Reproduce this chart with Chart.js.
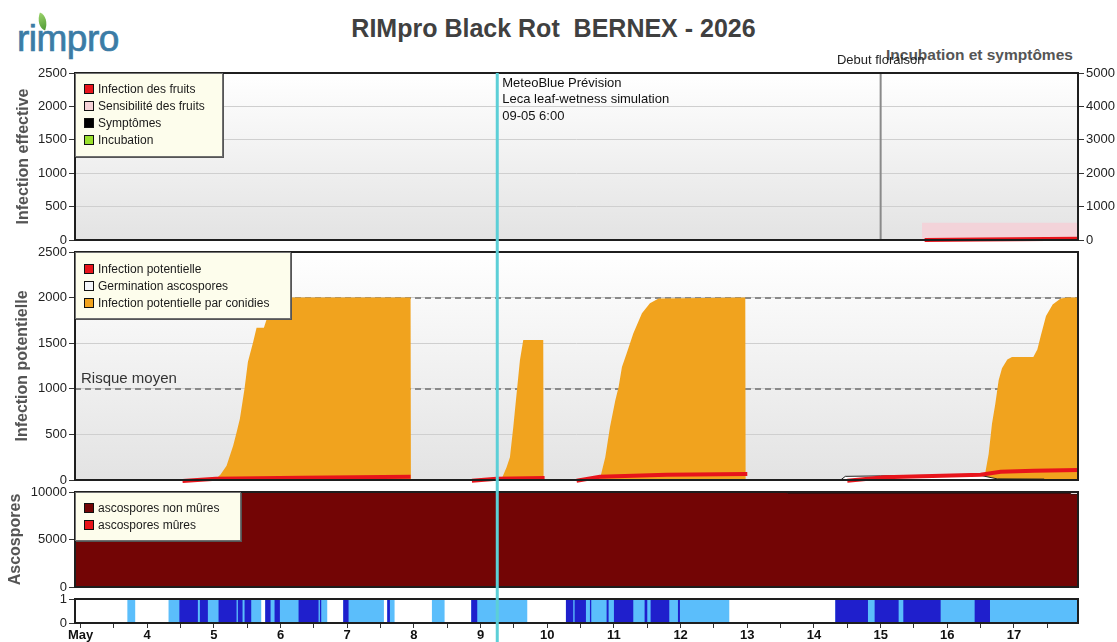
<!DOCTYPE html>
<html><head><meta charset="utf-8">
<script src="https://cdn.jsdelivr.net/npm/chart.js@4/dist/chart.umd.min.js"></script>
<style>
html,body{margin:0;padding:0;background:#fff;}
#wrap{position:relative;width:1117px;height:642px;overflow:hidden;font-family:"Liberation Sans",Arial,sans-serif;}
#wrap canvas{position:absolute;left:0;top:0;}
.txt{position:absolute;white-space:pre;line-height:1;}
.lg{position:absolute;background:#fdfdec;border:1px solid #707070;box-shadow:1px 1px 0 #555;font:12px "Liberation Sans",Arial,sans-serif;color:#1a1a1a;box-sizing:border-box;padding-left:8px;}
.lg .it{height:17px;display:flex;align-items:center;white-space:nowrap;}
.lg .sw{width:10px;height:10px;border:1px solid #111;box-sizing:border-box;margin-right:4px;flex:none;}
#leaf{position:absolute;left:37px;top:14px;width:11px;height:15px;background:linear-gradient(135deg,#9bd36a,#4f9a35);border-radius:0 100% 0 100%;transform:rotate(20deg);}
</style></head>
<body>
<div id="wrap">
  <div id="leaf"></div>
  <div class="txt" style="left:17px;top:20px;font-size:37px;color:#3b7ca6;letter-spacing:-0.5px;-webkit-text-stroke:0.7px #3b7ca6;">rimpro</div>
  <div class="txt" style="left:0;width:1107px;top:16px;text-align:center;font-size:25px;font-weight:bold;color:#404040;">RIMpro Black Rot  BERNEX - 2026</div>
  <div class="txt" style="left:886px;top:47px;font-size:15.5px;font-weight:bold;color:#555;">Incubation et symptômes</div>
</div>
<script>
// ---------------- DATA ----------------
const xMin = 2.917, xMax = 17.96;            // May 2 22:00 -> May 17 23:00 (day of month)
const dayTicks  = [3,4,5,6,7,8,9,10,11,12,13,14,15,16,17];
const dayLabels = ['May','4','5','6','7','8','9','10','11','12','13','14','15','16','17'];
const forecastStart = 9.25;                   // 09-05 6:00
const forecastLines = ['MeteoBlue Prévision','Leca leaf-wetness simulation','09-05 6:00'];
const bloomDay = 15.0;                        // Debut floraison
const riskLevels = [1000, 2000];

// Panel 1 : Infection effective
const sensDays   = [15.62, 17.96];
const sensValues = [520, 520];
const fruitDays   = [15.66, 16.5, 17.0, 17.97];
const fruitValues = [0, 6, 10, 18];

// Panel 2 : Infection potentielle
const conidiaDays = [5.02,5.04,5.10,5.19,5.29,5.34,5.39,5.46,5.51,5.59,5.64,5.75,5.79,5.88,5.98,6.08,7.95,7.955,
  9.30,9.32,9.39,9.44,9.49,9.52,9.55,9.59,9.64,9.94,9.945,
  10.77,10.80,10.87,10.94,11.02,11.07,11.12,11.19,11.29,11.42,11.54,11.67,12.97,12.975,
  16.55,16.62,16.67,16.72,16.77,16.82,16.90,16.97,17.29,17.35,17.40,17.48,17.58,17.70,17.80,17.96];
const conidiaValues = [0,20,60,157,378,520,671,1002,1295,1515,1669,1669,1760,1900,1970,2000,2000,0,
  0,20,139,249,579,800,1020,1313,1534,1534,0,
  0,40,249,579,872,1020,1240,1387,1607,1828,1938,1990,2000,0,
  0,286,616,836,1093,1225,1320,1350,1350,1430,1577,1797,1925,1990,2000,2000];
const potDays   = [4.53,5.03,6.3,7.95, 8.4, 8.87,9.24,9.96, 10.2, 10.44,10.79,11.79,13.0, 13.8, 14.50,15.05,16.50,16.80,17.30,17.97];
const potValues = [-10,15,25,36, null, -8,14,22, null, -8,36,58,66, null, -8,29,58,91,102,110];
const germDays   = [14.40,14.47,15.0,15.6,16.5,16.75,17.45,17.47];
const germValues = [0,40,45,50,50,12,10,0];

// Panel 3 : Ascospores
const ascoDays     = [2.917, 7.25, 13.6, 17.85, 17.96];
const ascoImmature = [10000, 9960, 9850, 9750, 9750];
const ascoMature   = [0, 0, 0, 0, 0];

// Panel 4 : leaf wetness / rain strip  [start, end] in days
const wetLight = [[3.70,3.82],[4.32,5.71],[5.77,6.70],[6.94,7.55],[7.60,7.71],[8.27,8.46],[8.86,9.70],[10.28,12.73],[14.32,17.97]];
const wetDark  = [[4.48,4.76],[4.79,4.91],[5.07,5.34],[5.36,5.43],[5.46,5.56],[5.77,5.85],[5.91,5.99],[6.27,6.57],[6.59,6.61],
  [6.94,7.02],[7.60,7.64],[8.86,8.95],[10.28,10.39],[10.41,10.58],[10.64,10.66],[10.89,10.92],[11.0,11.29],[11.46,11.50],
  [11.55,11.83],[11.96,11.99],[14.32,14.81],[14.91,15.27],[15.34,15.90],[16.41,16.64]];

// ---------------- HELPERS ----------------
const W = 1117, H = 642;
const FONT = '"Liberation Sans", Arial, sans-serif';
Chart.defaults.font.family = FONT;
Chart.defaults.color = '#222';
Chart.defaults.animation = false;
const zip = (xs, ys) => xs.map((x, i) => ({x, y: ys[i]}));
const spans = (list) => { const p = []; list.forEach(([s, e]) => p.push({x:s,y:0},{x:s,y:1},{x:e,y:1},{x:e,y:0})); return p; };
const plain = v => String(v);
const wrap = document.getElementById('wrap');
function ctxFor(){ const c = document.createElement('canvas'); c.width = W; c.height = H; c.style.width = W+'px'; c.style.height = H+'px'; wrap.appendChild(c); return c; }

const panelPlugin = {
  id: 'panel',
  beforeDraw(chart, args, o) {
    const {ctx, chartArea: a} = chart;
    ctx.save();
    if (o.gradient) {
      const g = ctx.createLinearGradient(0, a.top, 0, a.bottom);
      g.addColorStop(0, '#ffffff'); g.addColorStop(1, '#e3e3e3');
      ctx.fillStyle = g;
    } else ctx.fillStyle = '#ffffff';
    ctx.fillRect(a.left, a.top, a.right - a.left, a.bottom - a.top);
    ctx.restore();
  },
  beforeDatasetsDraw(chart, args, o) {
    if (!o.risk) return;
    const {ctx, chartArea: a, scales} = chart;
    ctx.save();
    ctx.strokeStyle = '#8a8a8a'; ctx.lineWidth = 2; ctx.setLineDash([6, 4]);
    riskLevels.forEach(v => { const y = Math.round(scales.y.getPixelForValue(v)); ctx.beginPath(); ctx.moveTo(a.left, y); ctx.lineTo(a.right, y); ctx.stroke(); });
    ctx.setLineDash([]);
    ctx.fillStyle = '#333'; ctx.font = '15px ' + FONT; ctx.textBaseline = 'middle'; ctx.textAlign = 'left';
    ctx.fillText('Risque moyen', a.left + 6, scales.y.getPixelForValue(1000) - 10);
    ctx.restore();
  },
  afterDraw(chart, args, o) {
    const {ctx, chartArea: a, scales} = chart;
    ctx.save();
    if (o.bloom) {
      const x = scales.x.getPixelForValue(bloomDay);
      ctx.strokeStyle = '#8a8a8a'; ctx.lineWidth = 2;
      ctx.beginPath(); ctx.moveTo(x, a.top); ctx.lineTo(x, a.bottom); ctx.stroke();
      ctx.fillStyle = '#222'; ctx.font = '13px ' + FONT; ctx.textAlign = 'center'; ctx.textBaseline = 'middle';
      ctx.fillText('Debut floraison', x, a.top - 13);
    }
    ctx.strokeStyle = '#1e1e1e'; ctx.lineWidth = 2;
    ctx.strokeRect(a.left, a.top, a.right - a.left, a.bottom - a.top);
    if (o.forecastText) {
      const x = scales.x.getPixelForValue(forecastStart);
      ctx.fillStyle = '#111'; ctx.font = '13px ' + FONT; ctx.textAlign = 'left'; ctx.textBaseline = 'alphabetic';
      forecastLines.forEach((t, i) => ctx.fillText(t, x + 5, a.top + 14 + i * 16.3));
    }
    if (o.cyanFrom !== undefined) {
      const x = scales.x.getPixelForValue(forecastStart);
      ctx.strokeStyle = '#5ccfd7'; ctx.lineWidth = 3;
      ctx.beginPath(); ctx.moveTo(x, o.cyanFrom); ctx.lineTo(x, H); ctx.stroke();
    }
    ctx.restore();
  }
};

function yAxis(o) {
  return {
    type: 'linear', position: 'left', min: o.min, max: o.max,
    afterFit(s) { s.width = 75; },
    border: {display: false},
    grid: {color: o.grid ? '#cfcfcf' : 'transparent', drawOnChartArea: !!o.grid, drawTicks: true, tickLength: 6, tickColor: '#333', lineWidth: 1},
    ticks: {stepSize: o.step, padding: 2, color: '#222', font: {size: 13}, callback: plain},
    title: {display: !!o.title, text: o.title, color: '#555', font: {size: 16, weight: 'bold'}, padding: {top: o.tp, bottom: 0}}
  };
}
const hiddenX = {type: 'linear', min: xMin, max: xMax, display: false};

function opts(pad, scales, pluginOpts) {
  return {
    responsive: false, animation: false, devicePixelRatio: 1,
    layout: {padding: pad},
    plugins: {legend: {display: false}, tooltip: {enabled: false}, panel: pluginOpts},
    elements: {point: {radius: 0}, line: {tension: 0}},
    scales
  };
}

// ---------------- PANEL 1 ----------------
new Chart(ctxFor(), {
  type: 'line',
  data: {datasets: [
    {label: 'Infection des fruits', data: zip(fruitDays, fruitValues), borderColor: '#e8141b', borderWidth: 4, fill: false, yAxisID: 'y', clip: 5},
    {label: 'Sensibilité des fruits', data: zip(sensDays, sensValues), borderWidth: 0, borderColor: 'transparent', backgroundColor: '#f3d3d9', fill: 'origin', yAxisID: 'y2'},
    {label: 'Symptômes', data: [], borderColor: '#000'},
    {label: 'Incubation', data: [], borderColor: '#99e02a'}
  ]},
  options: opts({top: 73, bottom: H - 240, left: 0, right: 0}, {
    x: hiddenX,
    y: yAxis({min: 0, max: 2500, step: 500, grid: true, title: 'Infection effective', tp: 14}),
    y2: {type: 'linear', position: 'right', min: 0, max: 5000, afterFit(s) { s.width = W - 1078; }, border: {display: false},
      grid: {drawOnChartArea: false, tickLength: 6, tickColor: '#333'}, ticks: {stepSize: 1000, padding: 2, color: '#222', font: {size: 13}, callback: plain}}
  }, {gradient: true, bloom: true, forecastText: true}),
  plugins: [panelPlugin]
});

// ---------------- PANEL 2 ----------------
new Chart(ctxFor(), {
  type: 'line',
  data: {datasets: [
    {label: 'Infection potentielle', data: zip(potDays, potValues), borderColor: '#e8141b', borderWidth: 4, fill: false, order: 0, clip: 5, spanGaps: false},
    {label: 'Germination ascospores', data: zip(germDays, germValues), borderColor: '#222', borderWidth: 1, backgroundColor: '#ffffff', fill: 'origin', order: 1},
    {label: 'Infection potentielle par conidies', data: zip(conidiaDays, conidiaValues), borderWidth: 0, borderColor: 'transparent', backgroundColor: '#f1a31e', fill: 'origin', order: 2}
  ]},
  options: opts({top: 252, bottom: H - 480, left: 0, right: W - 1078}, {
    x: hiddenX,
    y: yAxis({min: 0, max: 2500, step: 500, grid: true, title: 'Infection potentielle', tp: 13})
  }, {gradient: true, risk: true}),
  plugins: [panelPlugin]
});

// ---------------- PANEL 3 ----------------
new Chart(ctxFor(), {
  type: 'line',
  data: {datasets: [
    {label: 'ascospores mûres', data: zip(ascoDays, ascoMature), borderWidth: 0, borderColor: 'transparent', backgroundColor: '#e8141b', fill: 'origin', stepped: true},
    {label: 'ascospores non mûres', data: zip(ascoDays, ascoImmature), borderWidth: 1, borderColor: '#3a0000', backgroundColor: '#730505', fill: 'origin', stepped: true}
  ]},
  options: opts({top: 492, bottom: H - 587, left: 0, right: W - 1078}, {
    x: hiddenX,
    y: yAxis({min: 0, max: 10000, step: 5000, grid: false, title: 'Ascospores', tp: 6})
  }, {gradient: false}),
  plugins: [panelPlugin]
});

// ---------------- PANEL 4 ----------------
const allTicks = dayTicks.concat(dayTicks.map(d => d + 0.5)).filter(v => v >= xMin && v <= xMax).sort((a, b) => a - b);
new Chart(ctxFor(), {
  type: 'line',
  data: {datasets: [
    {label: 'humectation forte', data: spans(wetDark), borderWidth: 0, borderColor: 'transparent', backgroundColor: '#1f1fcc', fill: 'origin', order: 0},
    {label: 'humectation', data: spans(wetLight), borderWidth: 0, borderColor: 'transparent', backgroundColor: '#5bbefb', fill: 'origin', order: 1}
  ]},
  options: opts({top: 599, bottom: 0, left: 0, right: W - 1078}, {
    x: {type: 'linear', min: xMin, max: xMax, position: 'bottom',
      afterFit(s) { s.height = H - 623; },
      afterBuildTicks(s) { s.ticks = allTicks.map(v => ({value: v})); },
      border: {display: false},
      grid: {drawOnChartArea: false, drawTicks: true, tickLength: 5, tickColor: '#333'},
      ticks: {autoSkip: false, maxRotation: 0, padding: 0, color: '#111', font: {size: 13, weight: 'bold'},
        callback: v => { const i = dayTicks.indexOf(v); return i >= 0 ? dayLabels[i] : ''; }}},
    y: yAxis({min: 0, max: 1, step: 1, grid: false, title: '', tp: 0})
  }, {gradient: false, cyanFrom: 73}),
  plugins: [panelPlugin]
});

// ---------------- LEGENDS (HTML) ----------------
function legend(left, top, w, h, padTop, items) {
  const d = document.createElement('div');
  d.className = 'lg';
  Object.assign(d.style, {left: left + 'px', top: top + 'px', width: w + 'px', height: h + 'px', paddingTop: padTop + 'px'});
  items.forEach(([c, t]) => { const it = document.createElement('div'); it.className = 'it'; it.innerHTML = '<span class="sw" style="background:' + c + '"></span>' + t; d.appendChild(it); });
  wrap.appendChild(d);
}
legend(75, 73, 148, 84, 6.5, [['#e8141b', 'Infection des fruits'], ['#f6d2d6', 'Sensibilité des fruits'], ['#000', 'Symptômes'], ['#99e02a', 'Incubation']]);
legend(75, 252, 216, 67, 7.5, [['#e8141b', 'Infection potentielle'], ['#f4f6fa', 'Germination ascospores'], ['#f1a31e', 'Infection potentielle par conidies']]);
legend(75, 492, 166, 49, 6.5, [['#730505', 'ascospores non mûres'], ['#e8141b', 'ascospores mûres']]);
</script>
</body></html>
